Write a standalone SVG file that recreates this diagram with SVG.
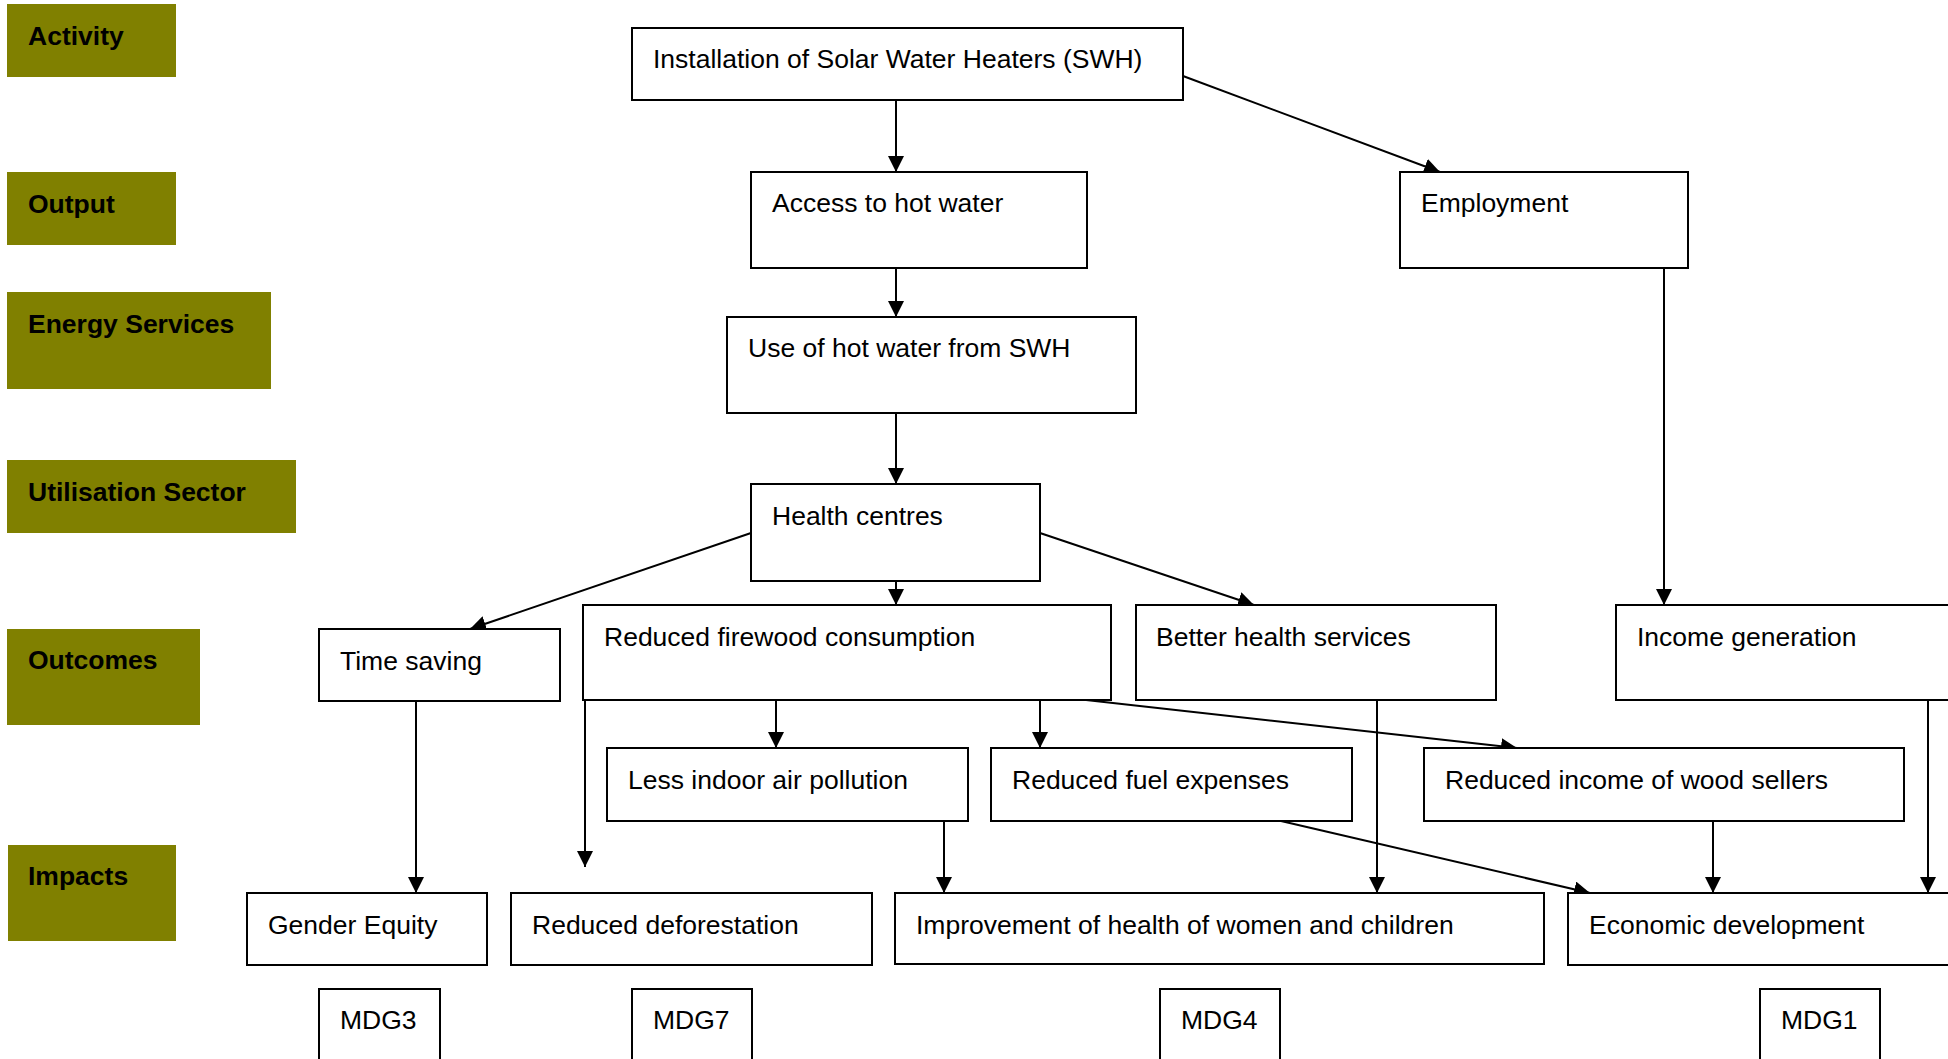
<svg xmlns="http://www.w3.org/2000/svg" width="1948" height="1059" viewBox="0 0 1948 1059">
<style>
.lbl rect{fill:#808000;stroke:none}
.lbl text{font-family:"Liberation Sans",Arial,sans-serif;font-weight:bold;font-size:26.5px;fill:#000}
.node rect{fill:#fff;stroke:#000;stroke-width:2}
.node text{font-family:"Liberation Sans",Arial,sans-serif;font-size:26.5px;fill:#000}
.conn line{stroke:#000;stroke-width:2;fill:none}
.conn .a{marker-end:url(#ah)}
</style>
<defs>
<marker id="ah" markerUnits="userSpaceOnUse" markerWidth="16" markerHeight="16" refX="15" refY="7.5" orient="auto" viewBox="0 0 15 15">
<path d="M0,0 L15,7.5 L0,15 z" fill="#000"/>
</marker>
</defs>
<rect width="1948" height="1059" fill="#fff"/>
<g id="lbl-activity" class="lbl"><rect x="7" y="4" width="169" height="73"/><text x="28" y="45">Activity</text></g>
<g id="lbl-output" class="lbl"><rect x="7" y="172" width="169" height="73"/><text x="28" y="213">Output</text></g>
<g id="lbl-energy" class="lbl"><rect x="7" y="292" width="264" height="97"/><text x="28" y="333">Energy Services</text></g>
<g id="lbl-util" class="lbl"><rect x="7" y="460" width="289" height="73"/><text x="28" y="501">Utilisation Sector</text></g>
<g id="lbl-outcomes" class="lbl"><rect x="7" y="629" width="193" height="96"/><text x="28" y="669">Outcomes</text></g>
<g id="lbl-impacts" class="lbl"><rect x="8" y="845" width="168" height="96"/><text x="28" y="885">Impacts</text></g>

<g id="connectors" class="conn">
<line class="a" x1="896" y1="100" x2="896" y2="172"/>
<line class="a" x1="1183" y1="76" x2="1440" y2="172"/>
<line class="a" x1="896" y1="268" x2="896" y2="317"/>
<line class="a" x1="896" y1="413" x2="896" y2="484"/>
<line x1="1664" y1="268" x2="1664" y2="560"/>
<line class="a" x1="1664" y1="560" x2="1664" y2="605"/>
<line class="a" x1="751" y1="533" x2="470" y2="629"/>
<line class="a" x1="896" y1="581" x2="896" y2="605"/>
<line class="a" x1="1040" y1="533" x2="1254" y2="605"/>
<line class="a" x1="776" y1="700" x2="776" y2="748"/>
<line class="a" x1="1040" y1="700" x2="1040" y2="748"/>
<line class="a" x1="1086" y1="700" x2="1517" y2="748"/>
<line class="a" x1="585" y1="700" x2="585" y2="867"/>
<line class="a" x1="416" y1="701" x2="416" y2="893"/>
<line class="a" x1="944" y1="821" x2="944" y2="893"/>
<line class="a" x1="1377" y1="700" x2="1377" y2="893"/>
<line class="a" x1="1281" y1="821" x2="1590" y2="893"/>
<line class="a" x1="1713" y1="821" x2="1713" y2="893"/>
<line class="a" x1="1928" y1="700" x2="1928" y2="893"/>
</g>

<g id="n-install" class="node"><rect x="632" y="28" width="551" height="72"/><text x="653" y="68">Installation of Solar Water Heaters (SWH)</text></g>
<g id="n-access" class="node"><rect x="751" y="172" width="336" height="96"/><text x="772" y="212">Access to hot water</text></g>
<g id="n-employment" class="node"><rect x="1400" y="172" width="288" height="96"/><text x="1421" y="212">Employment</text></g>
<g id="n-use" class="node"><rect x="727" y="317" width="409" height="96"/><text x="748" y="357">Use of hot water from SWH</text></g>
<g id="n-health" class="node"><rect x="751" y="484" width="289" height="97"/><text x="772" y="525">Health centres</text></g>
<g id="n-time" class="node"><rect x="319" y="629" width="241" height="72"/><text x="340" y="670">Time saving</text></g>
<g id="n-firewood" class="node"><rect x="583" y="605" width="528" height="95"/><text x="604" y="646">Reduced firewood consumption</text></g>
<g id="n-better" class="node"><rect x="1136" y="605" width="360" height="95"/><text x="1156" y="646">Better health services</text></g>
<g id="n-income" class="node"><rect x="1616" y="605" width="345" height="95"/><text x="1637" y="646">Income generation</text></g>
<g id="n-indoor" class="node"><rect x="607" y="748" width="361" height="73"/><text x="628" y="789">Less indoor air pollution</text></g>
<g id="n-fuel" class="node"><rect x="991" y="748" width="361" height="73"/><text x="1012" y="789">Reduced fuel expenses</text></g>
<g id="n-woodsellers" class="node"><rect x="1424" y="748" width="480" height="73"/><text x="1445" y="789">Reduced income of wood sellers</text></g>
<g id="n-gender" class="node"><rect x="247" y="893" width="240" height="72"/><text x="268" y="934">Gender Equity</text></g>
<g id="n-deforest" class="node"><rect x="511" y="893" width="361" height="72"/><text x="532" y="934">Reduced deforestation</text></g>
<g id="n-improve" class="node"><rect x="895" y="893" width="649" height="71"/><text x="916" y="934">Improvement of health of women and children</text></g>
<g id="n-economic" class="node"><rect x="1568" y="893" width="393" height="72"/><text x="1589" y="934">Economic development</text></g>
<g id="n-mdg3" class="node"><rect x="319" y="989" width="121" height="80"/><text x="340" y="1029">MDG3</text></g>
<g id="n-mdg7" class="node"><rect x="632" y="989" width="120" height="80"/><text x="653" y="1029">MDG7</text></g>
<g id="n-mdg4" class="node"><rect x="1160" y="989" width="120" height="80"/><text x="1181" y="1029">MDG4</text></g>
<g id="n-mdg1" class="node"><rect x="1760" y="989" width="120" height="80"/><text x="1781" y="1029">MDG1</text></g>
</svg>
